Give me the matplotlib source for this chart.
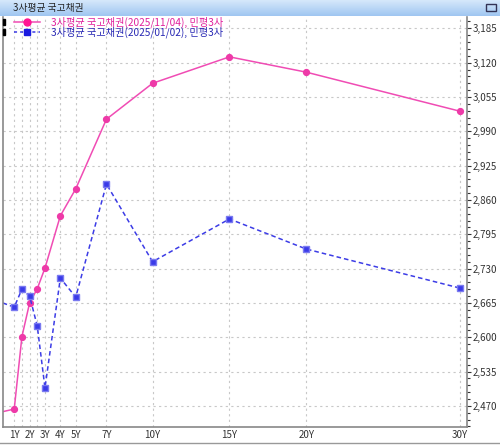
import numpy as np
import matplotlib
matplotlib.use('Agg')
import matplotlib.pyplot as plt
from matplotlib.patches import Rectangle
from matplotlib.lines import Line2D
from matplotlib.colors import LinearSegmentedColormap
from matplotlib.ticker import AutoMinorLocator, FuncFormatter

plt.rcParams['font.family'] = ['Noto Sans CJK KR', 'DejaVu Sans']

# maturities in years (0.25 = 3M point at the left edge)
MATS = [0.25, 1, 1.5, 2, 2.5, 3, 4, 5, 7, 10, 15, 20, 30]
NOV = [2.459, 2.464, 2.601, 2.665, 2.692, 2.731, 2.830, 2.881, 3.013, 3.081, 3.131, 3.102, 3.028]
JAN = [2.665, 2.657, 2.691, 2.678, 2.621, 2.504, 2.712, 2.676, 2.890, 2.743, 2.824, 2.767, 2.693]
XTICKS = [1, 2, 3, 4, 5, 7, 10, 15, 20, 30]
XLABELS = ['1Y', '2Y', '3Y', '4Y', '5Y', '7Y', '10Y', '15Y', '20Y', '30Y']
YTICKS = [2.470, 2.535, 2.600, 2.665, 2.730, 2.795, 2.860, 2.925, 2.990, 3.055, 3.120, 3.185]
TITLE = '3사평균 국고채권'
LBL_NOV = '3사평균 국고채권(2025/11/04), 민평3사'
LBL_JAN = '3사평균 국고채권(2025/01/02), 민평3사'

PINK = '#f04cb4'
BLUE = '#3c3ce6'
W, H = 500, 446

fig = plt.figure(figsize=(W / 100, H / 100), dpi=100)
fig.patch.set_facecolor('white')

# title bar with gradient
tb = fig.add_axes([0, 1 - 16 / H, 1, 16 / H])
grad = np.linspace(0, 1, 50)[:, None]
cm = LinearSegmentedColormap.from_list('tb', ['#d6e8fb', '#9fc6f1'])
tb.imshow(grad, aspect='auto', cmap=cm, extent=[0, 1, 0, 1])
tb.set_xlim(0, 1); tb.set_ylim(0, 1); tb.axis('off')
tb.text(13 / W, 0.5, TITLE, fontsize=7, va='center', ha='left', color='#222222')
tb.add_patch(Rectangle((486 / W, 0.3), 10 / W, 0.45, fill=False, ec='#333355', lw=1))

# main plot area
L, R, T, B = 3, 467, 17, 427
ax = fig.add_axes([L / W, (H - B) / H, (R - L) / W, (B - T) / H])
mk = list(range(1, len(MATS)))  # the 3M point sits off the left edge, no marker
ax.plot(MATS, NOV, '-', color=PINK, lw=1.1, marker='o', ms=4.2, markevery=mk,
        mfc='#ee3aa8', mec='#ee3aa8')
ax.plot(MATS, JAN, '--', color=BLUE, lw=1.1, dashes=(3, 2), marker='s', ms=4.5, markevery=mk,
        mfc='#3a3ae8', mec='#7a7af0')

ax.set_xlim(0.27, 30.45)
ax.set_ylim(2.430, 3.2065)
ax.set_xticks(XTICKS)
ax.set_xticklabels(XLABELS)
ax.set_xticks([1.5, 2.5], minor=True)
ax.set_yticks(YTICKS)
ax.yaxis.tick_right()
ax.yaxis.set_minor_locator(AutoMinorLocator(5))
ax.yaxis.set_major_formatter(FuncFormatter(lambda v, p: f"{v:.3f}".replace('.', ',')))
ax.tick_params(axis='y', which='major', length=3, width=0.8, pad=1, labelsize=7,
               colors='#333333')
ax.tick_params(axis='y', which='minor', length=2, width=0.8, colors='#333333')
ax.tick_params(axis='x', which='both', length=0, pad=2, labelsize=7, colors='#333333')
ax.grid(True, which='major', color='#c8c8c8', ls=(0, (2, 3)), lw=0.8)
ax.xaxis.grid(True, which='minor', color='#c8c8c8', ls=(0, (2, 3)), lw=0.8)
for s in ['left', 'right', 'bottom']:
    ax.spines[s].set_color('#888888')
    ax.spines[s].set_linewidth(1.2)
ax.spines['top'].set_visible(False)

# legend
leg = ax.legend([Line2D([], [], color=PINK, lw=1.1, marker='o', ms=5, mfc='#ff1493', mec='#ff1493'),
                 Line2D([], [], color=BLUE, lw=1.1, ls='--', dashes=(2, 2), marker='s', ms=5,
                        mfc='#1a1ae0', mec='#1a1ae0')],
                [LBL_NOV, LBL_JAN], loc='upper left', bbox_to_anchor=(9 / (R - L), 1.005),
                frameon=False, fontsize=7.3, handlelength=2.6, handletextpad=1.0,
                labelspacing=-0.15, borderpad=0.2, borderaxespad=0)
leg.get_texts()[0].set_color('#e0209c')
leg.get_texts()[1].set_color('#2828b4')

# small black markers by the legend and bottom strip
for yy in (22, 32):
    fig.patches.append(Rectangle((3 / W, 1 - (yy + 3) / H), 2 / W, 6 / H,
                                 transform=fig.transFigure, color='black'))
fig.add_artist(Line2D([0, 1], [1 - 443 / H] * 2, transform=fig.transFigure,
                      color='#999999', lw=1))

fig.savefig('out.png', dpi=100)
